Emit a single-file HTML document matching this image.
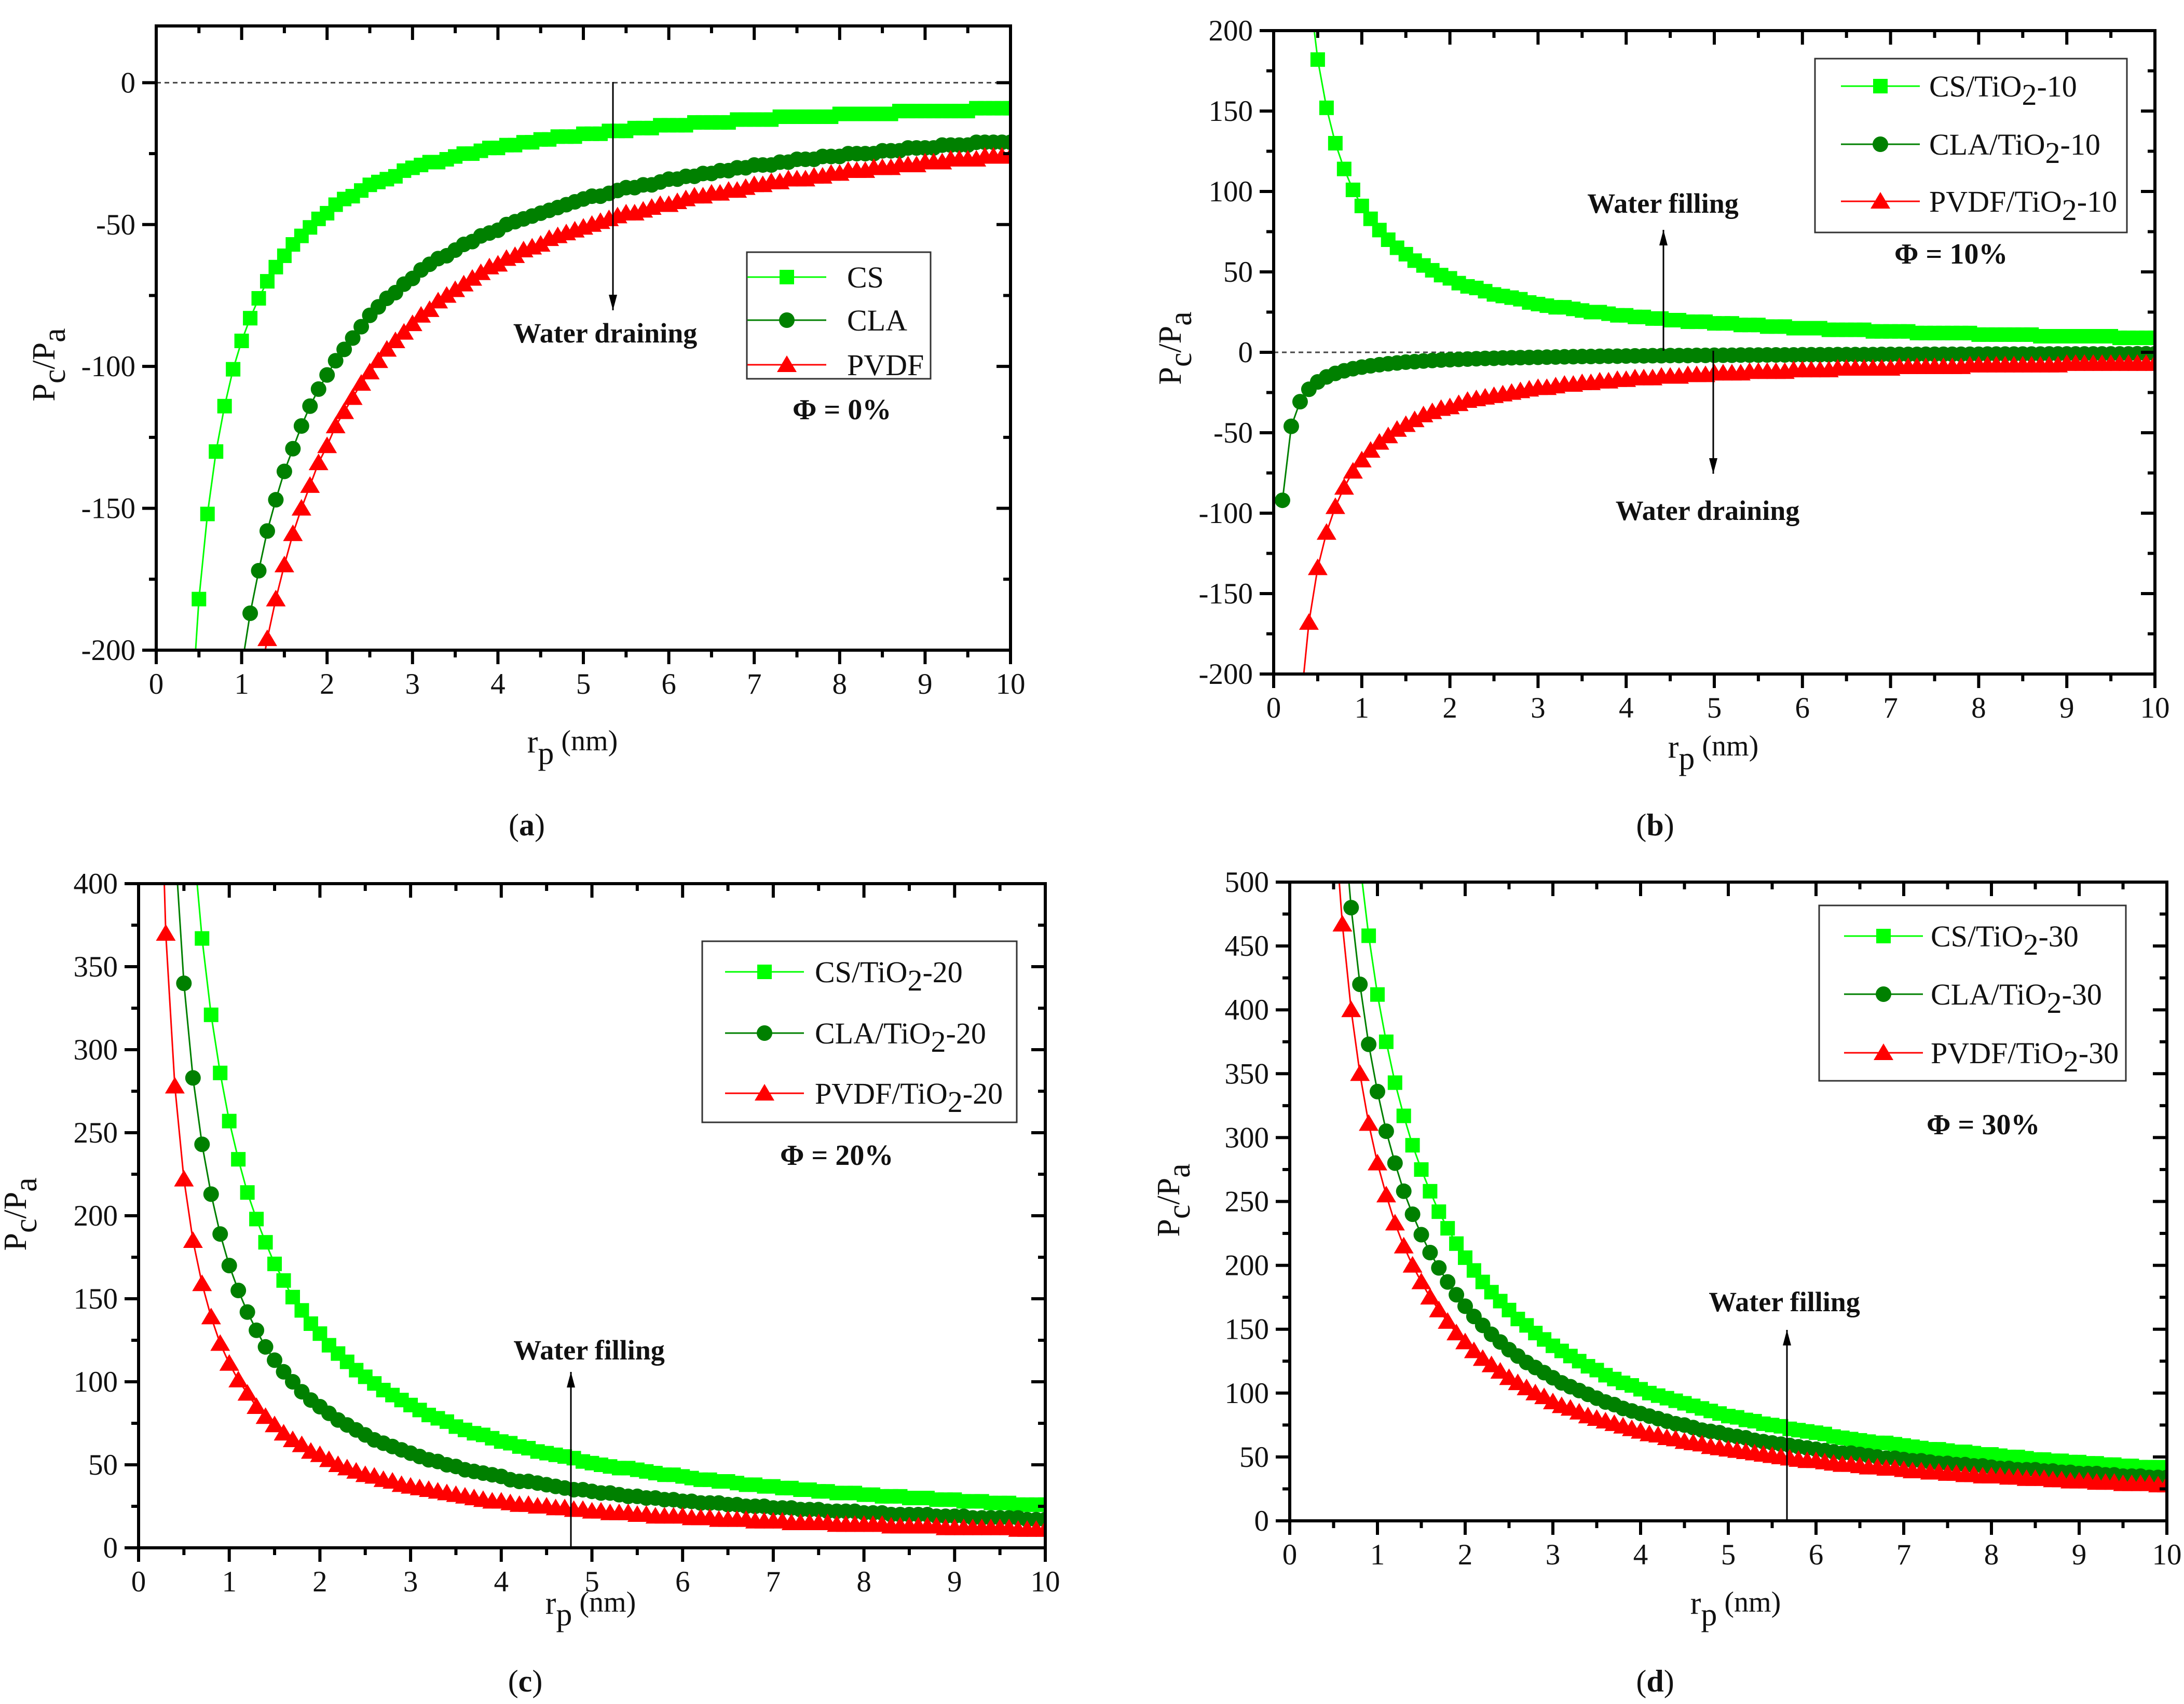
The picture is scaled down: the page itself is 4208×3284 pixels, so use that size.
<!DOCTYPE html>
<html><head><meta charset="utf-8"><style>
html,body{margin:0;padding:0;background:#fff;}
svg{display:block;}
text{font-family:"Liberation Serif",serif;fill:#111;}
</style></head><body>
<svg id="fig" xmlns="http://www.w3.org/2000/svg" width="4208" height="3284" viewBox="0 0 4208 3284"></svg>
<script>
const radius=[0.1,0.2,0.3,0.4,0.5,0.6,0.7,0.8,0.9,1.0,1.1,1.2,1.3,1.4,1.5,1.6,1.7,1.8,1.9,2.0,2.1,2.2,2.3,2.4,2.5,2.6,2.7,2.8,2.9,3.0,3.1,3.2,3.3,3.4,3.5,3.6,3.7,3.8,3.9,4.0,4.1,4.2,4.3,4.4,4.5,4.6,4.7,4.8,4.9,5.0,5.1,5.2,5.3,5.4,5.5,5.6,5.7,5.8,5.9,6.0,6.1,6.2,6.3,6.4,6.5,6.6,6.7,6.8,6.9,7.0,7.1,7.2,7.3,7.4,7.5,7.6,7.7,7.8,7.9,8.0,8.1,8.2,8.3,8.4,8.5,8.6,8.7,8.8,8.9,9.0,9.1,9.2,9.3,9.4,9.5,9.6,9.7,9.8,9.9,10.0];
const xTicks=[0,1,2,3,4,5,6,7,8,9,10];
// panel a
const aCS=[null,null,null,-228,-182,-152,-130,-114,-101,-91,-83,-76,-70,-65,-61,-57,-54,-51,-48,-46,-43,-41,-40,-38,-36,-35,-34,-33,-31,-30,-29,-28,-28,-27,-26,-25,-25,-24,-23,-23,-22,-22,-21,-21,-20,-20,-19,-19,-19,-18,-18,-18,-17,-17,-17,-16,-16,-16,-15,-15,-15,-15,-14,-14,-14,-14,-14,-13,-13,-13,-13,-13,-12,-12,-12,-12,-12,-12,-12,-11,-11,-11,-11,-11,-11,-11,-10,-10,-10,-10,-10,-10,-10,-10,-10,-9,-9,-9,-9,-9];
const aCLA=[null,null,null,null,null,null,null,null,null,-206,-187,-172,-158,-147,-137,-129,-121,-114,-108,-103,-98,-94,-90,-86,-82,-79,-76,-74,-71,-69,-66,-64,-62,-61,-59,-57,-56,-54,-53,-52,-50,-49,-48,-47,-46,-45,-44,-43,-42,-41,-40,-40,-39,-38,-37,-37,-36,-36,-35,-34,-34,-33,-33,-32,-32,-31,-31,-30,-30,-29,-29,-29,-28,-28,-27,-27,-27,-26,-26,-26,-25,-25,-25,-25,-24,-24,-24,-23,-23,-23,-23,-22,-22,-22,-22,-21,-21,-21,-21,-21];
const aPVDF=[null,null,null,null,null,null,null,null,null,null,null,-213,-196,-182,-170,-159,-150,-142,-134,-128,-121,-116,-111,-106,-102,-98,-94,-91,-88,-85,-82,-80,-77,-75,-73,-71,-69,-67,-65,-64,-62,-61,-59,-58,-57,-55,-54,-53,-52,-51,-50,-49,-48,-47,-46,-46,-45,-44,-43,-43,-42,-41,-40,-40,-39,-39,-38,-38,-37,-36,-36,-35,-35,-34,-34,-34,-33,-33,-32,-32,-31,-31,-31,-30,-30,-30,-29,-29,-29,-28,-28,-28,-27,-27,-27,-27,-26,-26,-26,-26];
// panel b
const bCS=[null,null,null,228,182,152,130,114,101,91,83,76,70,65,61,57,54,51,48,46,43,41,40,38,36,35,34,33,31,30,29,28,28,27,26,25,25,24,23,23,22,22,21,21,20,20,19,19,19,18,18,18,17,17,17,16,16,16,15,15,15,15,14,14,14,14,14,13,13,13,13,13,12,12,12,12,12,12,12,11,11,11,11,11,11,11,10,10,10,10,10,10,10,10,10,9,9,9,9,9];
const bCLA=[-92,-46,-30.7,-23,-18.4,-15.3,-13.1,-11.5,-10.2,-9.2,-8.4,-7.7,-7.1,-6.6,-6.1,-5.8,-5.4,-5.1,-4.8,-4.6,-4.4,-4.2,-4,-3.8,-3.7,-3.5,-3.4,-3.3,-3.2,-3.1,-3,-2.9,-2.8,-2.7,-2.6,-2.6,-2.5,-2.4,-2.4,-2.3,-2.2,-2.2,-2.1,-2.1,-2,-2,-2,-1.9,-1.9,-1.8,-1.8,-1.8,-1.7,-1.7,-1.7,-1.6,-1.6,-1.6,-1.6,-1.5,-1.5,-1.5,-1.5,-1.4,-1.4,-1.4,-1.4,-1.4,-1.3,-1.3,-1.3,-1.3,-1.3,-1.2,-1.2,-1.2,-1.2,-1.2,-1.2,-1.2,-1.1,-1.1,-1.1,-1.1,-1.1,-1.1,-1.1,-1,-1,-1,-1,-1,-1,-1,-1,-1,-1,-0.9,-0.9,-0.9];
const bPVDF=[null,null,-223,-168,-134,-112,-96,-84,-74,-67,-61,-56,-52,-48,-45,-42,-39,-37,-35,-34,-32,-30,-29,-28,-27,-26,-25,-24,-23,-22,-22,-21,-20,-20,-19,-19,-18,-18,-17,-17,-16,-16,-16,-15,-15,-15,-14,-14,-14,-13,-13,-13,-13,-12,-12,-12,-12,-12,-11,-11,-11,-11,-11,-10,-10,-10,-10,-10,-10,-10,-9,-9,-9,-9,-9,-9,-9,-9,-8,-8,-8,-8,-8,-8,-8,-8,-8,-8,-8,-7,-7,-7,-7,-7,-7,-7,-7,-7,-7,-7];
// panel c
const cCS=[null,null,null,null,null,428,367,321,286,257,234,214,198,184,171,161,151,143,135,129,122,117,112,107,103,99,95,92,89,86,83,80,78,76,73,71,69,68,66,64,63,61,60,58,57,56,55,54,52,51,50,49,48,48,47,46,45,44,44,43,42,41,41,40,40,39,38,38,37,37,36,36,35,35,34,34,33,33,33,32,32,31,31,31,30,30,30,29,29,29,28,28,28,27,27,27,26,26,26,26];
const cCLA=[null,null,null,425,340,283,243,213,189,170,155,142,131,121,113,106,100,94,89,85,81,77,74,71,68,65,63,61,59,57,55,53,52,50,49,47,46,45,44,43,41,40,40,39,38,37,36,35,35,34,33,33,32,31,31,30,30,29,29,28,28,27,27,27,26,26,25,25,25,24,24,24,23,23,23,22,22,22,22,21,21,21,20,20,20,20,20,19,19,19,19,18,18,18,18,18,18,17,17,17];
const cPVDF=[null,555,370,278,222,185,159,139,123,111,101,93,85,79,74,69,65,62,58,56,53,50,48,46,44,43,41,40,38,37,36,35,34,33,32,31,30,29,28,28,27,26,26,25,25,24,24,23,23,22,22,21,21,21,20,20,19,19,19,19,18,18,18,17,17,17,17,16,16,16,16,15,15,15,15,15,14,14,14,14,14,14,13,13,13,13,13,13,12,12,12,12,12,12,12,12,11,11,11,11];
// panel d
const dCS=[null,null,null,null,null,null,null,515,458,412,375,343,317,294,275,258,242,229,217,206,196,187,179,172,165,158,153,147,142,137,133,129,125,121,118,114,111,108,106,103,100,98,96,94,92,90,88,86,84,82,81,79,78,76,75,74,72,71,70,69,68,66,65,64,63,62,61,61,60,59,58,57,56,56,55,54,54,53,52,52,51,50,50,49,48,48,47,47,46,46,45,45,44,44,43,43,42,42,42,41];
const dCLA=[null,null,null,null,null,560,480,420,373,336,305,280,258,240,224,210,198,187,177,168,160,153,146,140,134,129,124,120,116,112,108,105,102,99,96,93,91,88,86,84,82,80,78,76,75,73,71,70,69,67,66,65,63,62,61,60,59,58,57,56,55,54,53,53,52,51,50,49,49,48,47,47,46,45,45,44,44,43,43,42,41,41,40,40,40,39,39,38,38,37,37,37,36,36,35,35,35,34,34,34];
const dPVDF=[null,null,null,null,560,467,400,350,311,280,255,233,215,200,187,175,165,156,147,140,133,127,122,117,112,108,104,100,97,93,90,88,85,82,80,78,76,74,72,70,68,67,65,64,62,61,60,58,57,56,55,54,53,52,51,50,49,48,47,47,46,45,44,44,43,42,42,41,41,40,39,39,38,38,37,37,36,36,35,35,35,34,34,33,33,33,32,32,31,31,31,30,30,30,29,29,29,29,28,28];
const yTicksA=[0,-50,-100,-150,-200];
const yTicksB=[200,150,100,50,0,-50,-100,-150,-200];
const yTicksC=[0,50,100,150,200,250,300,350,400];
const yTicksD=[0,50,100,150,200,250,300,350,400,450,500];
const namesA=["CS","CLA","PVDF"];

const NS="http://www.w3.org/2000/svg";
const svg=document.getElementById('fig');
function mk(tag,attrs,parent){const e=document.createElementNS(NS,tag);for(const k in attrs)e.setAttribute(k,attrs[k]);(parent||svg).appendChild(e);return e;}
const COL=["#00ff00","#008000","#ff0000"];
const SHAPES=["square","circle","triangle"];

function marker(g,shape,cx,cy,col,name){
  let e;
  if(shape==="square")e=mk('rect',{x:cx-14,y:cy-14,width:28,height:28,fill:col},g);
  else if(shape==="circle")e=mk('circle',{cx:cx,cy:cy,r:15,fill:col},g);
  else e=mk('polygon',{points:`${cx},${cy-18} ${cx+19},${cy+14} ${cx-19},${cy+14}`,fill:col},g);
  
  
  return e;
}

function panel(p){
  const g=mk('g',{});
  
  
  const sx=x=>p.L+(x-0)/(10-0)*(p.R-p.L);
  const sy=y=>p.B-(y-p.ymin)/(p.ymax-p.ymin)*(p.B-p.T);
  const cid='clip'+p.id;
  const cp=mk('clipPath',{id:cid},g);mk('rect',{x:p.L,y:p.T,width:p.R-p.L,height:p.B-p.T},cp);
  if(p.zero){const z=mk('line',{x1:p.L,x2:p.R,y1:sy(0),y2:sy(0),stroke:'#444','stroke-width':3,'stroke-dasharray':'9,7'},g);
    }
  const sg=mk('g',{'clip-path':`url(#${cid})`},g);
  p.series.forEach((s,i)=>{
    const pts=[];
    s.forEach((v,j)=>{if(v!==null)pts.push([sx(radius[j]),sy(v)]);});
    const pl=mk('polyline',{points:pts.map(q=>q.join(',')).join(' '),fill:'none',stroke:COL[i],'stroke-width':3},sg);
    
    
  });
  p.series.forEach((s,i)=>{
    s.forEach((v,j)=>{if(v!==null)marker(sg,SHAPES[i],sx(radius[j]),sy(v),COL[i],'point-'+SHAPES[i]);});
  });
  const fr=mk('rect',{x:p.L,y:p.T,width:p.R-p.L,height:p.B-p.T,fill:'none',stroke:'#000','stroke-width':6},g);
  
  for(let k=0;k<=20;k++){const x=sx(k*0.5);const maj=k%2===0;const len=maj?27:14;
    mk('line',{x1:x,x2:x,y1:p.B,y2:p.B+len,stroke:'#000','stroke-width':6},g);
    mk('line',{x1:x,x2:x,y1:p.T,y2:p.T+len,stroke:'#000','stroke-width':6},g);}
  xTicks.forEach(t=>{const tx=mk('text',{x:sx(t),y:p.B+84,'text-anchor':'middle','font-size':57},g);tx.textContent=t;
    });
  for(let v=p.ymin;v<=p.ymax;v+=p.yMinor){const y=sy(v);const maj=(Math.round(v)%p.yMajor===0);const len=maj?27:14;
    mk('line',{x1:p.L-len,x2:p.L,y1:y,y2:y,stroke:'#000','stroke-width':6},g);
    mk('line',{x1:p.R-len,x2:p.R,y1:y,y2:y,stroke:'#000','stroke-width':6},g);}
  p.yTicks.forEach(t=>{const ty=mk('text',{x:p.L-40,y:sy(t)+19,'text-anchor':'end','font-size':57},g);ty.textContent=t;
    });
  const xt=mk('text',{x:p.xl[0],y:p.xl[1],'text-anchor':'middle','font-size':62},g);
  xt.innerHTML='r<tspan dy="22">p</tspan><tspan dy="-26" font-size="56"> (nm)</tspan>';
  
  const yt=mk('text',{x:0,y:0,'text-anchor':'middle','font-size':62,transform:`translate(${p.yl[0]},${p.yl[1]}) rotate(-90)`},g);
  yt.innerHTML='P<tspan dy="20">c</tspan><tspan dy="-20">/P</tspan><tspan dy="20">a</tspan>';
  
  const lg=mk('g',{},g);
  mk('rect',{x:p.leg[0],y:p.leg[1],width:p.leg[2],height:p.leg[3],fill:'#fff',stroke:'#333','stroke-width':3},lg);
  p.names.forEach((n,i)=>{const y=p.legY[i];
    const le=mk('g',{},lg);
    mk('line',{x1:p.legM-76,x2:p.legM+76,y1:y,y2:y,stroke:COL[i],'stroke-width':3},le);
    marker(le,SHAPES[i],p.legM,y,COL[i],'legend-marker');
    const t=mk('text',{x:p.legT,y:y+20,'font-size':58},le);
    const m=n.match(/^(.*TiO)(2)(.*)$/);
    if(m){t.innerHTML=`${m[1]}<tspan dy="16">2</tspan><tspan dy="-16">${m[3]}</tspan>`;}else t.textContent=n;
  });
  const ph=mk('text',{x:p.phi[0],y:p.phi[1],'font-size':56,'font-weight':'bold','xml:space':'preserve'},g);
  ph.textContent='Φ   = '+p.phi[2];
  p.ann.forEach(a=>{
    const t=mk('text',{x:a.tx,y:a.ty,'text-anchor':'middle','font-size':54,'font-weight':'bold'},g);t.textContent=a.text;
    
    const ar=mk('g',{},g);
    mk('line',{x1:a.x,x2:a.x,y1:a.y1,y2:a.y2,stroke:'#000','stroke-width':3},ar);
    const d=a.y2>a.y1?1:-1;
    mk('polygon',{points:`${a.x},${a.y2} ${a.x-8},${a.y2-d*30} ${a.x+8},${a.y2-d*30}`,fill:'#000'},ar);
  });
  const pl=mk('text',{x:p.lab[0],y:p.lab[1],'text-anchor':'middle','font-size':60},g);
  pl.innerHTML=`(<tspan font-weight="bold">${p.id}</tspan>)`;
}

panel({id:'a',L:301,R:1947,T:50,B:1253,ymin:-200,ymax:20,yMajor:50,yMinor:25,yTicks:yTicksA,zero:true,
  series:[aCS,aCLA,aPVDF],names:namesA,
  xl:[1103,1450],yl:[105,703],leg:[1439,486,354,244],legM:1516,legT:1632,legY:[534,617,703],phi:[1527,808,'0%'],
  ann:[{text:'Water draining',tx:1166,ty:660,x:1181,y1:158,y2:598}],lab:[1015,1610]});
panel({id:'b',L:2454,R:4152,T:59,B:1299,ymin:-200,ymax:200,yMajor:50,yMinor:25,yTicks:yTicksB,zero:true,
  series:[bCS,bCLA,bPVDF],names:["CS/TiO2-10","CLA/TiO2-10","PVDF/TiO2-10"],
  xl:[3301,1460],yl:[2275,671],leg:[3497,113,601,335],legM:3623,legT:3717,legY:[166,278,388],phi:[3650,508,'10%'],
  ann:[{text:'Water filling',tx:3204,ty:410,x:3205,y1:676,y2:443},{text:'Water draining',tx:3290,ty:1002,x:3301,y1:676,y2:913}],lab:[3189,1610]});
panel({id:'c',L:267,R:2014,T:1703,B:2983,ymin:0,ymax:400,yMajor:50,yMinor:25,yTicks:yTicksC,zero:false,
  series:[cCS,cCLA,cPVDF],names:["CS/TiO2-20","CLA/TiO2-20","PVDF/TiO2-20"],
  xl:[1138,3110],yl:[50,2340],leg:[1353,1814,606,349],legM:1473,legT:1570,legY:[1873,1991,2107],phi:[1503,2245,'20%'],
  ann:[{text:'Water filling',tx:1135,ty:2620,x:1100,y1:2982,y2:2644}],lab:[1012,3260]});
panel({id:'d',L:2485,R:4175,T:1700,B:2931,ymin:0,ymax:500,yMajor:50,yMinor:25,yTicks:yTicksD,zero:false,
  series:[dCS,dCLA,dPVDF],names:["CS/TiO2-30","CLA/TiO2-30","PVDF/TiO2-30"],
  xl:[3344,3110],yl:[2272,2313],leg:[3505,1745,591,338],legM:3629,legT:3720,legY:[1804,1916,2029],phi:[3712,2186,'30%'],
  ann:[{text:'Water filling',tx:3438,ty:2527,x:3443,y1:2928,y2:2563}],lab:[3189,3260]});
</script>
</body></html>
